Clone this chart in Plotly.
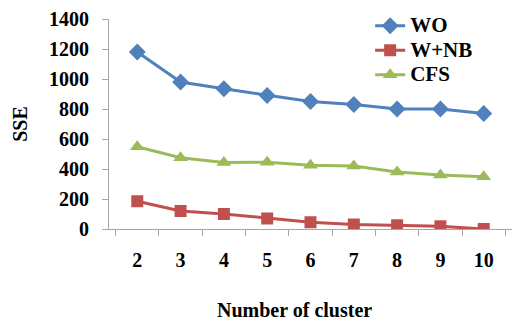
import plotly.graph_objects as go

clusters = ["2", "3", "4", "5", "6", "7", "8", "9", "10"]
sse_wo = [1180, 980, 935, 890, 850, 830, 800, 800, 770]
sse_wnb = [185, 120, 100, 70, 45, 30, 25, 18, 0]
sse_cfs = [548, 475, 443, 445, 425, 420, 380, 360, 348]

series = [
    ("WO", sse_wo, "#4F81BD", "diamond", 13),
    ("W+NB", sse_wnb, "#C0504D", "square", 12),
    ("CFS", sse_cfs, "#9BBB59", "triangle-up", 13),
]

serif = "Liberation Serif, Times New Roman, serif"

fig = go.Figure()
for name, vals, color, symbol, size in series:
    fig.add_trace(go.Scatter(
        x=clusters, y=vals,
        name=f"<span style='font-size:21px'><b>{name}</b></span>",
        mode="lines+markers",
        line=dict(color=color, width=3),
        marker=dict(symbol=symbol, size=size, color=color),
    ))

fig.update_layout(
    width=512, height=323,
    margin=dict(l=109, r=0, t=19, b=94),
    paper_bgcolor="white", plot_bgcolor="white",
    font=dict(family=serif, color="black", size=19),
    showlegend=True,
    legend=dict(
        x=0.648, y=1.05, xanchor="left", yanchor="top",
        bgcolor="rgba(0,0,0,0)",
        font=dict(family=serif, size=16.5, color="black"),
        tracegroupgap=0, itemwidth=30,
    ),
    xaxis=dict(
        type="category",
        showgrid=False, zeroline=False,
        showline=True, linecolor="#A6A6A6", linewidth=1,
        ticks="outside", ticklen=6, tickcolor="#A6A6A6",
        tickson="boundaries",
        ticklabelstandoff=13,
        tickfont=dict(family=serif, size=20),
        tickprefix="<b>", ticksuffix="</b>",
    ),
    yaxis=dict(
        range=[0, 1400], dtick=200,
        showgrid=False, zeroline=False,
        showline=True, linecolor="#A6A6A6", linewidth=1,
        ticks="outside", ticklen=6, tickcolor="#A6A6A6",
        ticklabelstandoff=9,
        tickfont=dict(family=serif, size=20),
        tickprefix="<b>", ticksuffix="</b>",
        title=dict(text="<b>SSE</b>", standoff=16,
                   font=dict(family=serif, size=20)),
    ),
)

# x-axis caption, set slightly left of the plot centre
fig.add_annotation(
    text="<b>Number of cluster</b>", showarrow=False,
    xref="paper", yref="paper", x=0.46, y=-0.386,
    xanchor="center", yanchor="middle",
    font=dict(family=serif, size=20, color="black"),
)

fig.write_html("out.html")
